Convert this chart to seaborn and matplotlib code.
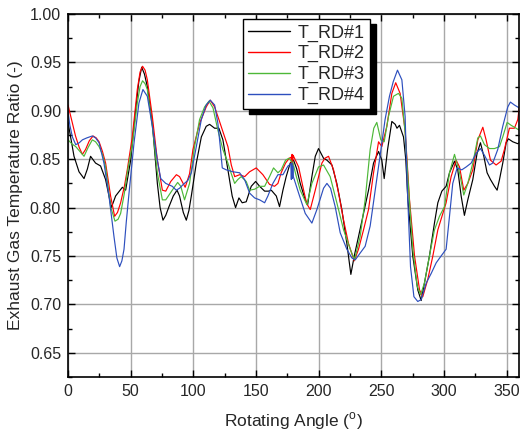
import matplotlib
matplotlib.use("Agg")
import matplotlib.pyplot as plt
import pandas as pd
import seaborn as sns
from matplotlib.ticker import MultipleLocator, FormatStrFormatter

# Exhaust gas temperature ratio versus rotating angle for four rotor-disk probes
angle_rd1 = [0, 2.5, 4.8, 8.8, 12.8, 15.5, 18, 22, 26, 30, 34.6, 38, 43.4, 46, 50, 54, 56.5,
             58.8, 61, 63.3, 67.3, 71.3, 73.5, 75.8, 78, 80.6, 84, 87, 89, 92, 94.4, 96.5,
             98.4, 102.4, 106.4, 110.3, 113, 117, 120.4, 123.6, 127.6, 131, 133.7, 136.4,
             139, 142.2, 146.2, 149.7, 152.9, 156.9, 160, 162.2, 166.2, 168.8, 171.5, 174.1,
             177.3, 180, 182.5, 185.3, 189.3, 191.2, 194.6, 197.3, 199.9, 203.9, 206.6,
             210.6, 214.5, 218.5, 222.5, 225.7, 228.4, 231.8, 235.8, 239.8, 243.8, 247.8,
             250.4, 252.3, 255, 258.4, 261.1, 262.5, 264.5, 267.7, 269.5, 271.2, 275.1,
             279.1, 281.8, 284.4, 288.4, 292.4, 295.1, 298.3, 301.7, 304.4, 308.4, 311,
             313.7, 316.3, 319, 323, 326.4, 329.1, 331.8, 334.4, 337.1, 340.3, 342.4, 344.3,
             346.9, 349.6, 351.4, 354.9, 358.9, 360]
ratio_rd1 = [0.888, 0.870, 0.853, 0.837, 0.830, 0.840, 0.853, 0.846, 0.843, 0.829, 0.800,
             0.812, 0.821, 0.818, 0.849, 0.901, 0.930, 0.945, 0.938, 0.925, 0.887, 0.825,
             0.800, 0.787, 0.792, 0.801, 0.812, 0.818, 0.812, 0.795, 0.787, 0.797, 0.812,
             0.846, 0.873, 0.884, 0.886, 0.882, 0.882, 0.870, 0.839, 0.812, 0.800, 0.810,
             0.805, 0.806, 0.822, 0.827, 0.822, 0.817, 0.817, 0.818, 0.812, 0.801, 0.818,
             0.832, 0.846, 0.849, 0.840, 0.825, 0.808, 0.803, 0.832, 0.853, 0.861, 0.851,
             0.849, 0.844, 0.825, 0.798, 0.763, 0.731, 0.750, 0.770, 0.794, 0.818, 0.846,
             0.858, 0.849, 0.830, 0.860, 0.889, 0.886, 0.882, 0.885, 0.873, 0.850, 0.808,
             0.750, 0.715, 0.704, 0.722, 0.750, 0.784, 0.805, 0.817, 0.822, 0.836, 0.848,
             0.839, 0.812, 0.792, 0.808, 0.829, 0.856, 0.867, 0.853, 0.836, 0.829, 0.822,
             0.818, 0.829, 0.846, 0.867, 0.871, 0.868, 0.866, 0.867]

angle_rd2 = [0, 3, 6, 9, 11.5, 14, 17, 20, 22.5, 24.8, 27.5, 30, 34, 37.2, 39.5, 42, 45,
             47.3, 51.3, 55.3, 57.5, 59.5, 61.5, 63.3, 67.3, 71.3, 75.3, 78, 82, 86.5, 89,
             93.5, 97, 99.7, 105, 110.3, 113.5, 117, 120.4, 125, 127.6, 130.3, 133, 137, 141,
             144.9, 150.2, 155.5, 160.8, 164.8, 167.5, 170.1, 173.6, 176.5, 178, 178.4,
             178.8, 179.2, 179.6, 180, 184, 188, 190.5, 193.3, 197.3, 202.6, 205, 207.9,
             211.9, 215.9, 219.9, 223.8, 228.4, 231.8, 235.8, 239.8, 243.8, 247.8, 250.4,
             254.4, 258.4, 261.5, 265, 269, 272.5, 276.5, 280.5, 283.1, 287.1, 291.1, 295.1,
             299.1, 301.7, 305.7, 309.7, 312.4, 315.8, 319, 323, 327, 331, 333.6, 337.1,
             341.6, 345.6, 348.2, 352.2, 356.2, 358.9, 360]
ratio_rd2 = [0.906, 0.890, 0.874, 0.862, 0.855, 0.860, 0.869, 0.874, 0.872, 0.868, 0.858,
             0.846, 0.812, 0.791, 0.795, 0.805, 0.822, 0.839, 0.873, 0.922, 0.940, 0.946,
             0.942, 0.932, 0.894, 0.849, 0.818, 0.817, 0.827, 0.834, 0.832, 0.821, 0.835,
             0.860, 0.887, 0.904, 0.911, 0.904, 0.891, 0.873, 0.863, 0.844, 0.832, 0.834,
             0.832, 0.837, 0.841, 0.834, 0.824, 0.822, 0.825, 0.836, 0.846, 0.851, 0.852,
             0.843, 0.855, 0.844, 0.854, 0.853, 0.842, 0.818, 0.804, 0.798, 0.818, 0.846,
             0.851, 0.853, 0.839, 0.815, 0.787, 0.763, 0.745, 0.757, 0.777, 0.798, 0.836,
             0.868, 0.863, 0.884, 0.918, 0.929, 0.918, 0.880, 0.808, 0.750, 0.715, 0.708,
             0.726, 0.750, 0.777, 0.794, 0.805, 0.832, 0.849, 0.842, 0.818, 0.825, 0.839,
             0.870, 0.883, 0.870, 0.849, 0.844, 0.848, 0.860, 0.882, 0.882, 0.891, 0.903]

angle_rd3 = [0, 3, 6.2, 9.5, 12.8, 16, 19.4, 22, 24.8, 27.5, 30, 34, 37.5, 40, 42, 45, 47.3,
             51.3, 55.3, 57.5, 59.5, 61.5, 63.3, 67.3, 71.3, 75.3, 78, 83.2, 87.5, 90, 93, 97,
             101, 105, 109, 112.5, 115.7, 119.6, 123.6, 127.6, 130.3, 133, 135.5, 138.2,
             142.2, 144.9, 148.9, 152.9, 156.9, 160.8, 164, 167.5, 170.1, 173.6, 176.3,
             179.5, 182, 185.3, 190.6, 194.6, 199.9, 203.9, 209.2, 214.5, 219.9, 225.2,
             228.6, 233.1, 237.1, 241.1, 244, 246.4, 249.6, 252.3, 255.7, 259.7, 263.7,
             266.4, 269, 271.5, 275.1, 278.6, 281.3, 284.4, 288.4, 292.4, 296.4, 300.4,
             304.4, 308.4, 312.4, 315.8, 319, 323, 327, 329.1, 332.3, 336.3, 340.3, 344.3,
             346.9, 350.4, 353.6, 357.5, 360]
ratio_rd3 = [0.870, 0.866, 0.863, 0.858, 0.853, 0.862, 0.870, 0.868, 0.863, 0.855, 0.842,
             0.801, 0.786, 0.788, 0.794, 0.815, 0.836, 0.865, 0.908, 0.925, 0.931, 0.928,
             0.922, 0.884, 0.836, 0.808, 0.808, 0.818, 0.826, 0.822, 0.808, 0.825, 0.863,
             0.891, 0.904, 0.910, 0.903, 0.880, 0.860, 0.846, 0.835, 0.825, 0.829, 0.832,
             0.827, 0.818, 0.819, 0.822, 0.822, 0.832, 0.841, 0.836, 0.839, 0.849, 0.851,
             0.846, 0.833, 0.818, 0.803, 0.825, 0.842, 0.844, 0.832, 0.805, 0.777, 0.757,
             0.746, 0.770, 0.808, 0.860, 0.882, 0.888, 0.870, 0.868, 0.894, 0.915, 0.918,
             0.913, 0.877, 0.825, 0.757, 0.719, 0.710, 0.722, 0.750, 0.777, 0.791, 0.801,
             0.836, 0.855, 0.836, 0.813, 0.825, 0.846, 0.872, 0.874, 0.865, 0.861, 0.861,
             0.863, 0.873, 0.888, 0.885, 0.882, 0.880]

angle_rd4 = [0, 1.5, 3.5, 6.2, 9, 11.5, 15, 19.4, 22, 24.8, 28.7, 32.7, 36.7, 39, 41.2, 43,
             44.7, 46.5, 48.7, 52.7, 56.6, 59.8, 63.3, 67.3, 71.3, 74, 78, 83.2, 86.4, 89, 92,
             95.6, 98.4, 102.4, 106.4, 110.3, 113.5, 117, 119.6, 121.5, 123.1, 126.3, 131.6,
             136.9, 140.9, 144.9, 148.9, 152.9, 156.9, 159.5, 163.5, 167.5, 171.5, 175.5,
             177.8, 178.2, 178.6, 179, 179.4, 179.8, 184, 189.3, 194.6, 198.6, 203.9, 206.6,
             209.5, 213.2, 217.2, 222.5, 226.5, 229.2, 233.1, 237.1, 241.1, 246, 249.5, 253,
             256.5, 259.5, 262.9, 266.4, 269, 270.6, 273.3, 276, 279.1, 281.8, 285.8, 289.8,
             293.8, 297.7, 301.7, 304.4, 307, 310.5, 314.2, 317.7, 321.7, 325.6, 329.1,
             332.3, 336.3, 338.9, 342.9, 346.9, 350.9, 353, 356.2, 360]
ratio_rd4 = [0.899, 0.885, 0.873, 0.865, 0.867, 0.870, 0.872, 0.874, 0.872, 0.867, 0.846,
             0.812, 0.770, 0.748, 0.739, 0.745, 0.757, 0.785, 0.815, 0.867, 0.908, 0.922,
             0.915, 0.884, 0.849, 0.830, 0.825, 0.822, 0.818, 0.820, 0.824, 0.828, 0.836,
             0.863, 0.891, 0.906, 0.911, 0.906, 0.887, 0.863, 0.841, 0.839, 0.837, 0.836,
             0.829, 0.815, 0.810, 0.808, 0.805, 0.812, 0.825, 0.834, 0.834, 0.843, 0.845,
             0.829, 0.846, 0.830, 0.843, 0.832, 0.815, 0.794, 0.784, 0.798, 0.820, 0.825,
             0.820, 0.801, 0.774, 0.757, 0.748, 0.746, 0.753, 0.760, 0.781, 0.826, 0.858,
             0.891, 0.915, 0.930, 0.942, 0.932, 0.894, 0.825, 0.739, 0.708, 0.703, 0.705,
             0.722, 0.732, 0.743, 0.750, 0.757, 0.791, 0.825, 0.841, 0.839, 0.842, 0.846,
             0.856, 0.861, 0.854, 0.844, 0.846, 0.860, 0.884, 0.904, 0.909, 0.906, 0.903]

series_names = ["T_RD#1", "T_RD#2", "T_RD#3", "T_RD#4"]
series_colors = ["#000000", "#FF0000", "#4DB838", "#2D4FBE"]
x_ticks = [0, 50, 100, 150, 200, 250, 300, 350]
y_ticks = [0.65, 0.70, 0.75, 0.80, 0.85, 0.90, 0.95, 1.00]

frames = []
for name, ang, rat in zip(series_names,
                          [angle_rd1, angle_rd2, angle_rd3, angle_rd4],
                          [ratio_rd1, ratio_rd2, ratio_rd3, ratio_rd4]):
    frames.append(pd.DataFrame({"angle": ang, "ratio": rat, "series": name}))
df = pd.concat(frames, ignore_index=True)

sns.set_theme(style="ticks")
plt.rcParams["font.family"] = ["Liberation Sans", "DejaVu Sans"]
plt.rcParams["mathtext.fontset"] = "custom"
plt.rcParams["mathtext.rm"] = "Liberation Sans"

fig = plt.figure(figsize=(5.21, 4.36), dpi=100)
ax = fig.add_axes([0.1305, 0.1353, 0.866, 0.8326])

sns.lineplot(data=df, x="angle", y="ratio", hue="series",
             palette=dict(zip(series_names, series_colors)),
             estimator=None, sort=False, linewidth=0.85, ax=ax)

ax.set_xlim(0, 360)
ax.set_ylim(0.625, 1.0)
ax.set_xticks(x_ticks)
ax.set_yticks(y_ticks)
ax.xaxis.set_minor_locator(MultipleLocator(25))
ax.yaxis.set_minor_locator(MultipleLocator(0.025))
ax.yaxis.set_major_formatter(FormatStrFormatter("%.2f"))
ax.tick_params(which="both", direction="in", top=True, right=True,
               width=1.0, color="black", labelsize=11.5, pad=5)
ax.tick_params(which="major", length=5)
ax.tick_params(which="minor", length=3)
ax.grid(True, which="major", color="#A8A8A8", linewidth=1.0)
ax.set_axisbelow(True)
for sp in ax.spines.values():
    sp.set_color("black")
    sp.set_linewidth(1.2)

ax.set_xlabel(r"Rotating Angle ($^{\rm o}$)", fontsize=12.5, labelpad=8)
ax.set_ylabel("Exhaust Gas Temperature Ratio (-)", fontsize=12.5, labelpad=5)

leg = ax.legend(loc="upper left", bbox_to_anchor=(0.388, 0.986), frameon=True,
                fancybox=False, framealpha=1, edgecolor="black",
                shadow={"ox": 4.5, "oy": -3.5, "color": "black", "alpha": 1},
                fontsize=13, handlelength=2.3, handletextpad=0.4,
                labelspacing=0.2, borderpad=0.3, borderaxespad=0)
leg.get_frame().set_linewidth(1.0)
for line in leg.get_lines():
    line.set_linewidth(1.0)

fig.savefig("out.png", dpi=100)
